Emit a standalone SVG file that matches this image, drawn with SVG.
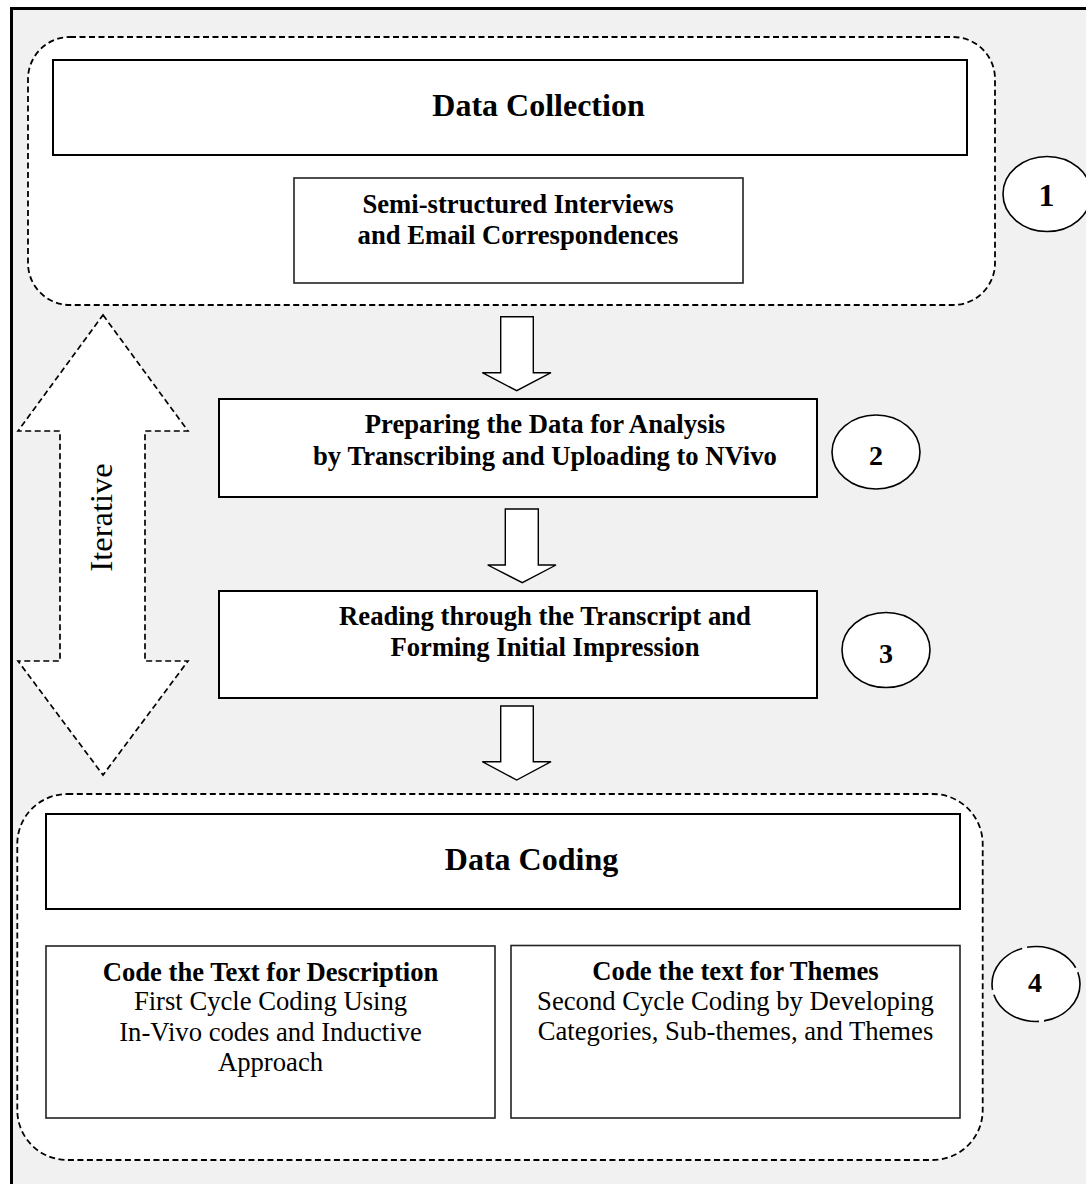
<svg xmlns="http://www.w3.org/2000/svg" width="1086" height="1184" viewBox="0 0 1086 1184">
  <style>
    .frame { fill: #f1f1f1; stroke: #000; stroke-width: 3; }
    .group { fill: #fff; stroke: #000; stroke-width: 1.8; stroke-dasharray: 6 3.5; }
    .box { fill: #fff; stroke: #000; stroke-width: 2; }
    .box-thin { fill: #fff; stroke: #222; stroke-width: 1.6; }
    .step { fill: #fff; stroke: #000; stroke-width: 1.6; }
    .flow { fill: #fff; stroke: #000; stroke-width: 1.4; stroke-linejoin: miter; }
    .loop { fill: #fff; stroke: #000; stroke-width: 1.7; stroke-dasharray: 6 3.5; }
    text { font-family: "Liberation Serif", "Times New Roman", serif; fill: #000; }
    .title { font-size: 32px; font-weight: bold; text-anchor: middle; }
    .label { font-size: 26.67px; font-weight: bold; text-anchor: middle; }
    .body { font-size: 26.67px; text-anchor: middle; }
    .num { font-size: 28px; font-weight: bold; text-anchor: middle; }
  </style>

  <!-- page frame -->
  <rect class="frame" x="11.5" y="8.5" width="1100" height="1200"/>

  <!-- stage 1: data collection -->
  <g id="stage-collection">
    <rect class="group" x="28" y="37" width="967" height="268" rx="42" ry="42"/>
    <g id="data-collection">
      <rect class="box" x="53" y="60" width="914" height="95"/>
      <text class="title" x="538.5" y="116">Data Collection</text>
    </g>
    <g id="interviews">
      <rect class="box-thin" x="294" y="178" width="449" height="105"/>
      <text class="label" x="518" y="213">Semi-structured Interviews</text>
      <text class="label" x="518" y="244">and Email Correspondences</text>
    </g>
  </g>
  <g id="badge-1">
    <ellipse class="step" cx="1047" cy="194" rx="44" ry="37.5"/>
    <text class="num" x="1046.5" y="206" style="font-size:32px">1</text>
  </g>

  <!-- stage 2: preparing data -->
  <g id="preparing">
    <rect class="box" x="219" y="399" width="598" height="98"/>
    <text class="label" x="545" y="433">Preparing the Data for Analysis</text>
    <text class="label" x="545" y="465">by Transcribing and Uploading to NVivo</text>
  </g>
  <g id="badge-2">
    <ellipse class="step" cx="876" cy="452" rx="44" ry="37"/>
    <text class="num" x="876" y="465">2</text>
  </g>

  <!-- stage 3: reading -->
  <g id="reading">
    <rect class="box" x="219" y="591" width="598" height="107"/>
    <text class="label" x="545" y="625">Reading through the Transcript and</text>
    <text class="label" x="545" y="656">Forming Initial Impression</text>
  </g>
  <g id="badge-3">
    <ellipse class="step" cx="886" cy="650" rx="44" ry="37.5"/>
    <text class="num" x="886" y="662.5">3</text>
  </g>

  <!-- stage 4: data coding -->
  <g id="stage-coding">
    <rect class="group" x="17.3" y="794" width="965.4" height="366" rx="50" ry="50"/>
    <g id="data-coding">
      <rect class="box" x="46" y="814" width="914" height="95"/>
      <text class="title" x="531.5" y="870">Data Coding</text>
    </g>
    <g id="first-cycle">
      <rect class="box-thin" x="46" y="946" width="449" height="172"/>
      <text class="label" x="270.5" y="981">Code the Text for Description</text>
      <text class="body" x="270.5" y="1010">First Cycle Coding Using</text>
      <text class="body" x="270.5" y="1041">In-Vivo codes and Inductive</text>
      <text class="body" x="270.5" y="1071">Approach</text>
    </g>
    <g id="second-cycle">
      <rect class="box-thin" x="511" y="945.5" width="449" height="172.5"/>
      <text class="label" x="735.5" y="980">Code the text for Themes</text>
      <text class="body" x="735.5" y="1010">Second Cycle Coding by Developing</text>
      <text class="body" x="735.5" y="1040">Categories, Sub-themes, and Themes</text>
    </g>
  </g>
  <g id="badge-4">
    <ellipse class="step" cx="1036" cy="984" rx="44" ry="37.5" stroke-dasharray="56 5"/>
    <text class="num" x="1035" y="992">4</text>
  </g>

  <!-- connectors -->
  <g id="connectors">
    <path class="flow" d="M500.7,316.7 H533.3 V372.7 H551 L516.7,390.7 L482.3,372.7 H500.7 Z"/>
    <path class="flow" d="M505.3,509 H538.3 V565 H556 L522.3,582.7 L487.7,565 H505.3 Z"/>
    <path class="flow" d="M500.7,706 H533.3 V761.7 H551 L516.7,780 L482.3,761.7 H500.7 Z"/>
    <g id="iterative-loop">
      <path class="loop" d="M103,315 L188,431 H145 V661 H188 L103,775 L18,661 H60 V431 H18 Z"/>
      <text class="body" transform="translate(111.5 517.5) rotate(-90)" style="font-size:32.5px">Iterative</text>
    </g>
  </g>
</svg>
